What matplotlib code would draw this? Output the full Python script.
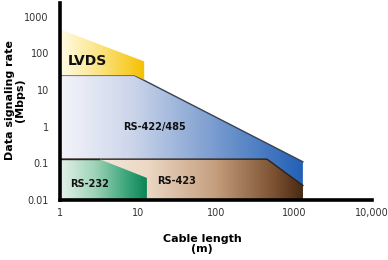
import numpy as np
import matplotlib
matplotlib.use("Agg")
import matplotlib.pyplot as plt
from matplotlib.patches import Polygon
from matplotlib.colors import LinearSegmentedColormap

# region outlines (cable length m, rate Mbps)
lvds_x = [1, 12, 12, 9, 1]
lvds_y = [450, 60, 19, 25, 25]
rs422_x = [1, 9, 1300, 1300, 1]
rs422_y = [25, 25, 0.11, 0.01, 0.01]
rs423_x = [1, 450, 1300, 1300, 1]
rs423_y = [0.13, 0.13, 0.025, 0.01, 0.01]
rs232_x = [1, 3.2, 13, 13, 1]
rs232_y = [0.13, 0.13, 0.04, 0.01, 0.01]

x_ticks = [1, 10, 100, 1000, 10000]
x_labels = ["1", "10", "100", "1000", "10,000"]
y_ticks = [0.01, 0.1, 1, 10, 100, 1000]
y_labels = ["0.01", "0.1", "1", "10", "100", "1000"]

XLIM = (1, 10000)
YLIM = (0.01, 2350)

fig = plt.figure(figsize=(3.88, 2.6), dpi=100)
ax = fig.add_axes([60 / 388, 1 - 200 / 260, 312 / 388, 197 / 260])
ax.set_xscale("log")
ax.set_yscale("log")
ax.set_xlim(*XLIM)
ax.set_ylim(*YLIM)


def frac_x(v):
    return (np.log10(v) - np.log10(XLIM[0])) / (np.log10(XLIM[1]) - np.log10(XLIM[0]))


def gradient_fill(xs, ys, stops, edge, edge_lw, z):
    poly = Polygon(list(zip(xs, ys)), closed=True, facecolor="none",
                   edgecolor="none", transform=ax.transData)
    ax.add_patch(poly)
    cmap = LinearSegmentedColormap.from_list("g", stops)
    grad = np.linspace(0, 1, 256).reshape(1, -1)
    im = ax.imshow(grad, cmap=cmap, aspect="auto", transform=ax.transAxes,
                   extent=[frac_x(min(xs)), frac_x(max(xs)), 0, 1],
                   zorder=z, interpolation="bilinear")
    im.set_clip_path(poly)
    if edge is not None:
        ax.plot(xs[:3], ys[:3], color=edge, lw=edge_lw, zorder=z + 0.1,
                solid_joinstyle="miter")


gradient_fill(rs422_x, rs422_y,
              [(0, "#f4f4fa"), (0.3, "#cbd5ea"), (0.6, "#82a2d2"), (1, "#2360b6")],
              "#3a4150", 1.0, 2)
gradient_fill(lvds_x, lvds_y,
              [(0, "#fffbe8"), (0.5, "#fbe27a"), (1, "#f5c000")],
              None, 0, 3)
gradient_fill(rs423_x, rs423_y,
              [(0, "#f8f2ec"), (0.36, "#ecd8c4"), (0.64, "#c59e7e"),
               (0.88, "#7c5232"), (1, "#4a2a12")],
              "#2e2218", 1.0, 4)
gradient_fill(rs232_x, rs232_y,
              [(0, "#e4f2ea"), (0.4, "#9fd3b8"), (0.75, "#3fa87c"), (1, "#0c8456")],
              None, 0, 5)
# dark rule along the top of the low-rate band
ax.plot(rs232_x[:2], rs232_y[:2], color="#2e2218", lw=1.0, zorder=5.1)

ax.text(1.27, 60, "LVDS", fontsize=10, fontweight="bold", color="#111111",
        va="center", zorder=10)
ax.text(6.4, 1.0, "RS-422/485", fontsize=7, fontweight="bold", color="#111111",
        va="center", zorder=10)
ax.text(1.33, 0.027, "RS-232", fontsize=7, fontweight="bold", color="#111111",
        va="center", zorder=10)
ax.text(17.5, 0.032, "RS-423", fontsize=7, fontweight="bold", color="#111111",
        va="center", zorder=10)

ax.set_xticks(x_ticks)
ax.set_xticklabels(x_labels)
ax.set_yticks(y_ticks)
ax.set_yticklabels(y_labels)
ax.minorticks_off()
ax.tick_params(length=0, labelsize=7, colors="#333333")
ax.tick_params(axis="y", pad=8)
ax.tick_params(axis="x", pad=6)

for s in ["top", "right"]:
    ax.spines[s].set_visible(False)
for s in ["left", "bottom"]:
    ax.spines[s].set_linewidth(2.6)
    ax.spines[s].set_color("black")
    ax.spines[s].set_zorder(12)
ax.patch.set_visible(False)

fig.text(15 / 388, 1 - 100 / 260, "Data signaling rate\n(Mbps)", rotation=90,
         ha="center", va="center", fontsize=8, fontweight="bold",
         multialignment="center", linespacing=1.1)
fig.text(202 / 388, 1 - 244 / 260, "Cable length\n(m)", ha="center",
         va="center", fontsize=8, fontweight="bold", multialignment="center",
         linespacing=1.1)

fig.savefig("out.png", dpi=100)
